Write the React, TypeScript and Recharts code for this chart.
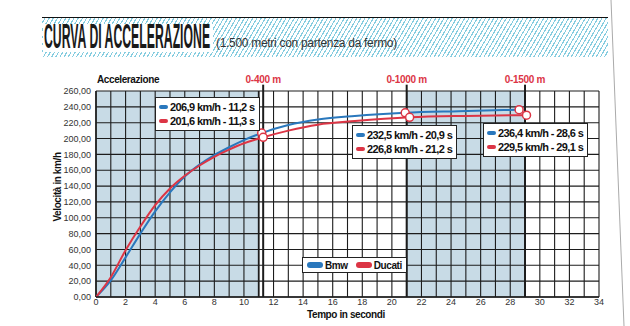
import React from "react";
import {
  LineChart,
  Line,
  XAxis,
  YAxis,
  ReferenceLine,
  ReferenceArea,
} from "recharts";

// tempi (s) e velocità (km/h)
const bmwTime = [0, 1, 2, 3, 4, 5, 6, 7, 8, 9, 10, 11.2, 13, 15, 17.5, 20.9, 24.5, 28.6];
const bmwSpeed = [0, 21, 50, 80, 108, 132, 152, 167, 179, 189, 198, 206.9, 217, 224, 228.5, 232.5, 234.5, 236.4];
const ducatiTime = [0, 1, 2, 3, 4, 5, 6, 7, 8, 9, 10, 11.3, 13, 15, 17.5, 21.2, 25, 29.1];
const ducatiSpeed = [0, 25, 59, 89, 116, 137, 153, 166, 177, 186, 194, 201.6, 210, 217.5, 222, 226.8, 228.6, 229.5];

// punti segnati (0-400, 0-1000, 0-1500 m)
const bmwMarks = [11.2, 20.9, 28.6];
const ducatiMarks = [11.3, 21.2, 29.1];

const xTicks = [0, 2, 4, 6, 8, 10, 12, 14, 16, 18, 20, 22, 24, 26, 28, 30, 32, 34];
const yTicks = [0, 20, 40, 60, 80, 100, 120, 140, 160, 180, 200, 220, 240, 260];
const seconds = Array.from({ length: 35 }, (_, i) => i);

const distances = [
  { label: "0-400 m", t: 11.3 },
  { label: "0-1000 m", t: 21 },
  { label: "0-1500 m", t: 29 },
];
const shaded = [
  [0, 11],
  [21, 29],
];

const BLUE = "#2a78bd";
const RED = "#dc3545";
const GRID = "#1c1c1c";
const SHADE = "#c8dbe6";
const SANS = '"Liberation Sans", Arial, sans-serif';

const bmwData = bmwTime.map((t, i) => ({ t, v: bmwSpeed[i], mark: bmwMarks.includes(t) }));
const ducatiData = ducatiTime.map((t, i) => ({ t, v: ducatiSpeed[i], mark: ducatiMarks.includes(t) }));

const renderDot = (props: any) => {
  const { cx, cy, payload, index } = props;
  if (!payload.mark) return <g key={index} />;
  return <circle key={index} cx={cx} cy={cy} r={4} fill="#fff" stroke={RED} strokeWidth={1.5} />;
};

const fmt = (v: number) => v.toFixed(2).replace(".", ",");

function ValueBox({ x, y, lines }: { x: number; y: number; lines: [string, string][] }) {
  return (
    <div
      style={{
        position: "absolute",
        left: x,
        top: y,
        background: "#fff",
        border: "1px solid #222",
        padding: "2px 4px 2px 3px",
        fontFamily: SANS,
        fontWeight: 700,
        fontSize: 11,
        letterSpacing: -0.6,
        lineHeight: "14px",
        color: "#111",
        whiteSpace: "nowrap",
      }}
    >
      {lines.map(([c, txt]) => (
        <div key={txt} style={{ display: "flex", alignItems: "center" }}>
          <span style={{ display: "inline-block", width: 9, height: 4, borderRadius: 2, background: c, marginRight: 2 }} />
          {txt}
        </div>
      ))}
    </div>
  );
}

export default function App() {
  return (
    <div style={{ position: "absolute", left: 0, top: 0, width: 630, height: 326, background: "#fff", overflow: "hidden" }}>
      {/* fascia titolo */}
      <div
        style={{
          position: "absolute",
          left: 42,
          top: 17,
          width: 566,
          height: 39,
          borderTop: "1.5px solid #111",
          background: "repeating-linear-gradient(-60deg, #fff 0px, #fff 2.5px, #86cde0 2.5px, #86cde0 3.6px)",
        }}
      />
      <div
        style={{
          position: "absolute",
          left: 43,
          top: 24,
          width: 170,
          height: 28,
          background: "#fff",
        }}
      />
      <div
        style={{
          position: "absolute",
          left: 44,
          top: 16,
          fontFamily: SANS,
          fontWeight: 700,
          fontSize: 35,
          color: "#1a1a1a",
          whiteSpace: "nowrap",
          transform: "scaleX(0.35)",
          transformOrigin: "left top",
        }}
      >
        CURVA DI ACCELERAZIONE
      </div>
      <div
        style={{
          position: "absolute",
          left: 216,
          top: 36,
          fontFamily: SANS,
          fontSize: 12,
          color: "#333",
          whiteSpace: "nowrap",
          letterSpacing: -0.3,
        }}
      >
        (1.500 metri con partenza da fermo)
      </div>

      <LineChart
        width={630}
        height={326}
        data={bmwData}
        margin={{ top: 91, right: 31, bottom: 0, left: 0 }}
        style={{ position: "absolute", left: 0, top: 0 }}
      >
        <XAxis
          dataKey="t"
          type="number"
          domain={[0, 34]}
          ticks={xTicks}
          allowDataOverflow
          height={29}
          tickLine={false}
          tickSize={0}
          tickMargin={2}
          axisLine={{ stroke: GRID, strokeWidth: 1.5 }}
          tick={{ fontSize: 9, fill: "#333", fontFamily: SANS }}
        />
        <YAxis
          type="number"
          domain={[0, 260]}
          ticks={yTicks}
          width={96}
          tickLine={false}
          tickSize={0}
          tickMargin={5}
          axisLine={false}
          tickFormatter={fmt}
          tick={{ fontSize: 9, fill: "#333", fontFamily: SANS }}
        />
        {shaded.map(([a, b]) => (
          <ReferenceArea key={a} x1={a} x2={b} y1={0} y2={260} fill={SHADE} fillOpacity={1} stroke="none" />
        ))}
        {yTicks.map((y) => (
          <ReferenceLine key={"h" + y} y={y} stroke={GRID} strokeWidth={1.1} />
        ))}
        {seconds.map((s) => (
          <ReferenceLine key={"v" + s} x={s} stroke={GRID} strokeWidth={s === 0 || s === 11 ? 1.8 : 1.1} />
        ))}
        {distances.map((d) => (
          <ReferenceLine
            key={d.label}
            segment={[
              { x: d.t, y: 0 },
              { x: d.t, y: 268 },
            ]}
            ifOverflow="visible"
            stroke={GRID}
            strokeWidth={2}
          />
        ))}
        <Line
          data={bmwData}
          dataKey="v"
          type="monotone"
          stroke={BLUE}
          strokeWidth={2}
          dot={renderDot}
          activeDot={false}
          isAnimationActive={false}
        />
        <Line
          data={ducatiData}
          dataKey="v"
          type="monotone"
          stroke={RED}
          strokeWidth={2}
          dot={renderDot}
          activeDot={false}
          isAnimationActive={false}
        />
      </LineChart>

      {/* etichette */}
      <div style={{ position: "absolute", left: 97, top: 74, fontFamily: SANS, fontWeight: 700, fontSize: 10, letterSpacing: -0.4, color: "#111" }}>
        Accelerazione
      </div>
      {distances.map((d) => (
        <div
          key={d.label}
          style={{
            position: "absolute",
            left: 96 + d.t * (503 / 34) - 40,
            width: 80,
            top: 74,
            textAlign: "center",
            fontFamily: SANS,
            fontWeight: 700,
            fontSize: 10,
            letterSpacing: -0.3,
            color: RED,
          }}
        >
          {d.label}
        </div>
      ))}
      <div
        style={{
          position: "absolute",
          left: 58 - 60,
          top: 187 - 6,
          width: 120,
          textAlign: "center",
          transform: "rotate(-90deg)",
          fontFamily: SANS,
          fontWeight: 700,
          fontSize: 10,
          letterSpacing: -0.4,
          lineHeight: "12px",
          color: "#111",
        }}
      >
        Velocità in km/h
      </div>
      <div
        style={{
          position: "absolute",
          left: 307,
          top: 309,
          fontFamily: SANS,
          fontWeight: 700,
          fontSize: 10,
          letterSpacing: -0.4,
          lineHeight: "11px",
          color: "#111",
        }}
      >
        Tempo in secondi
      </div>

      <ValueBox x={155} y={97} lines={[[BLUE, "206,9 km/h - 11,2 s"], [RED, "201,6 km/h - 11,3 s"]]} />
      <ValueBox x={352} y={125} lines={[[BLUE, "232,5 km/h - 20,9 s"], [RED, "226,8 km/h - 21,2 s"]]} />
      <ValueBox x={483} y={123} lines={[[BLUE, "236,4 km/h - 28,6 s"], [RED, "229,5 km/h - 29,1 s"]]} />

      {/* legenda */}
      <div
        style={{
          position: "absolute",
          left: 302,
          top: 257,
          height: 14,
          padding: "0 4px",
          background: "#fff",
          border: "1px solid #222",
          display: "flex",
          alignItems: "center",
          fontFamily: SANS,
          fontWeight: 700,
          fontSize: 10,
          letterSpacing: -0.4,
          color: "#111",
        }}
      >
        <span style={{ display: "inline-block", width: 16, height: 6, borderRadius: 3, background: BLUE, marginRight: 2 }} />
        Bmw
        <span style={{ display: "inline-block", width: 16, height: 6, borderRadius: 3, background: RED, margin: "0 2px 0 8px" }} />
        Ducati
      </div>

      <svg width={630} height={326} style={{ position: "absolute", left: 0, top: 0, pointerEvents: "none" }}>
        <line x1={611} y1={0} x2={624} y2={326} stroke="#aaa" strokeWidth={1} />
      </svg>
    </div>
  );
}
